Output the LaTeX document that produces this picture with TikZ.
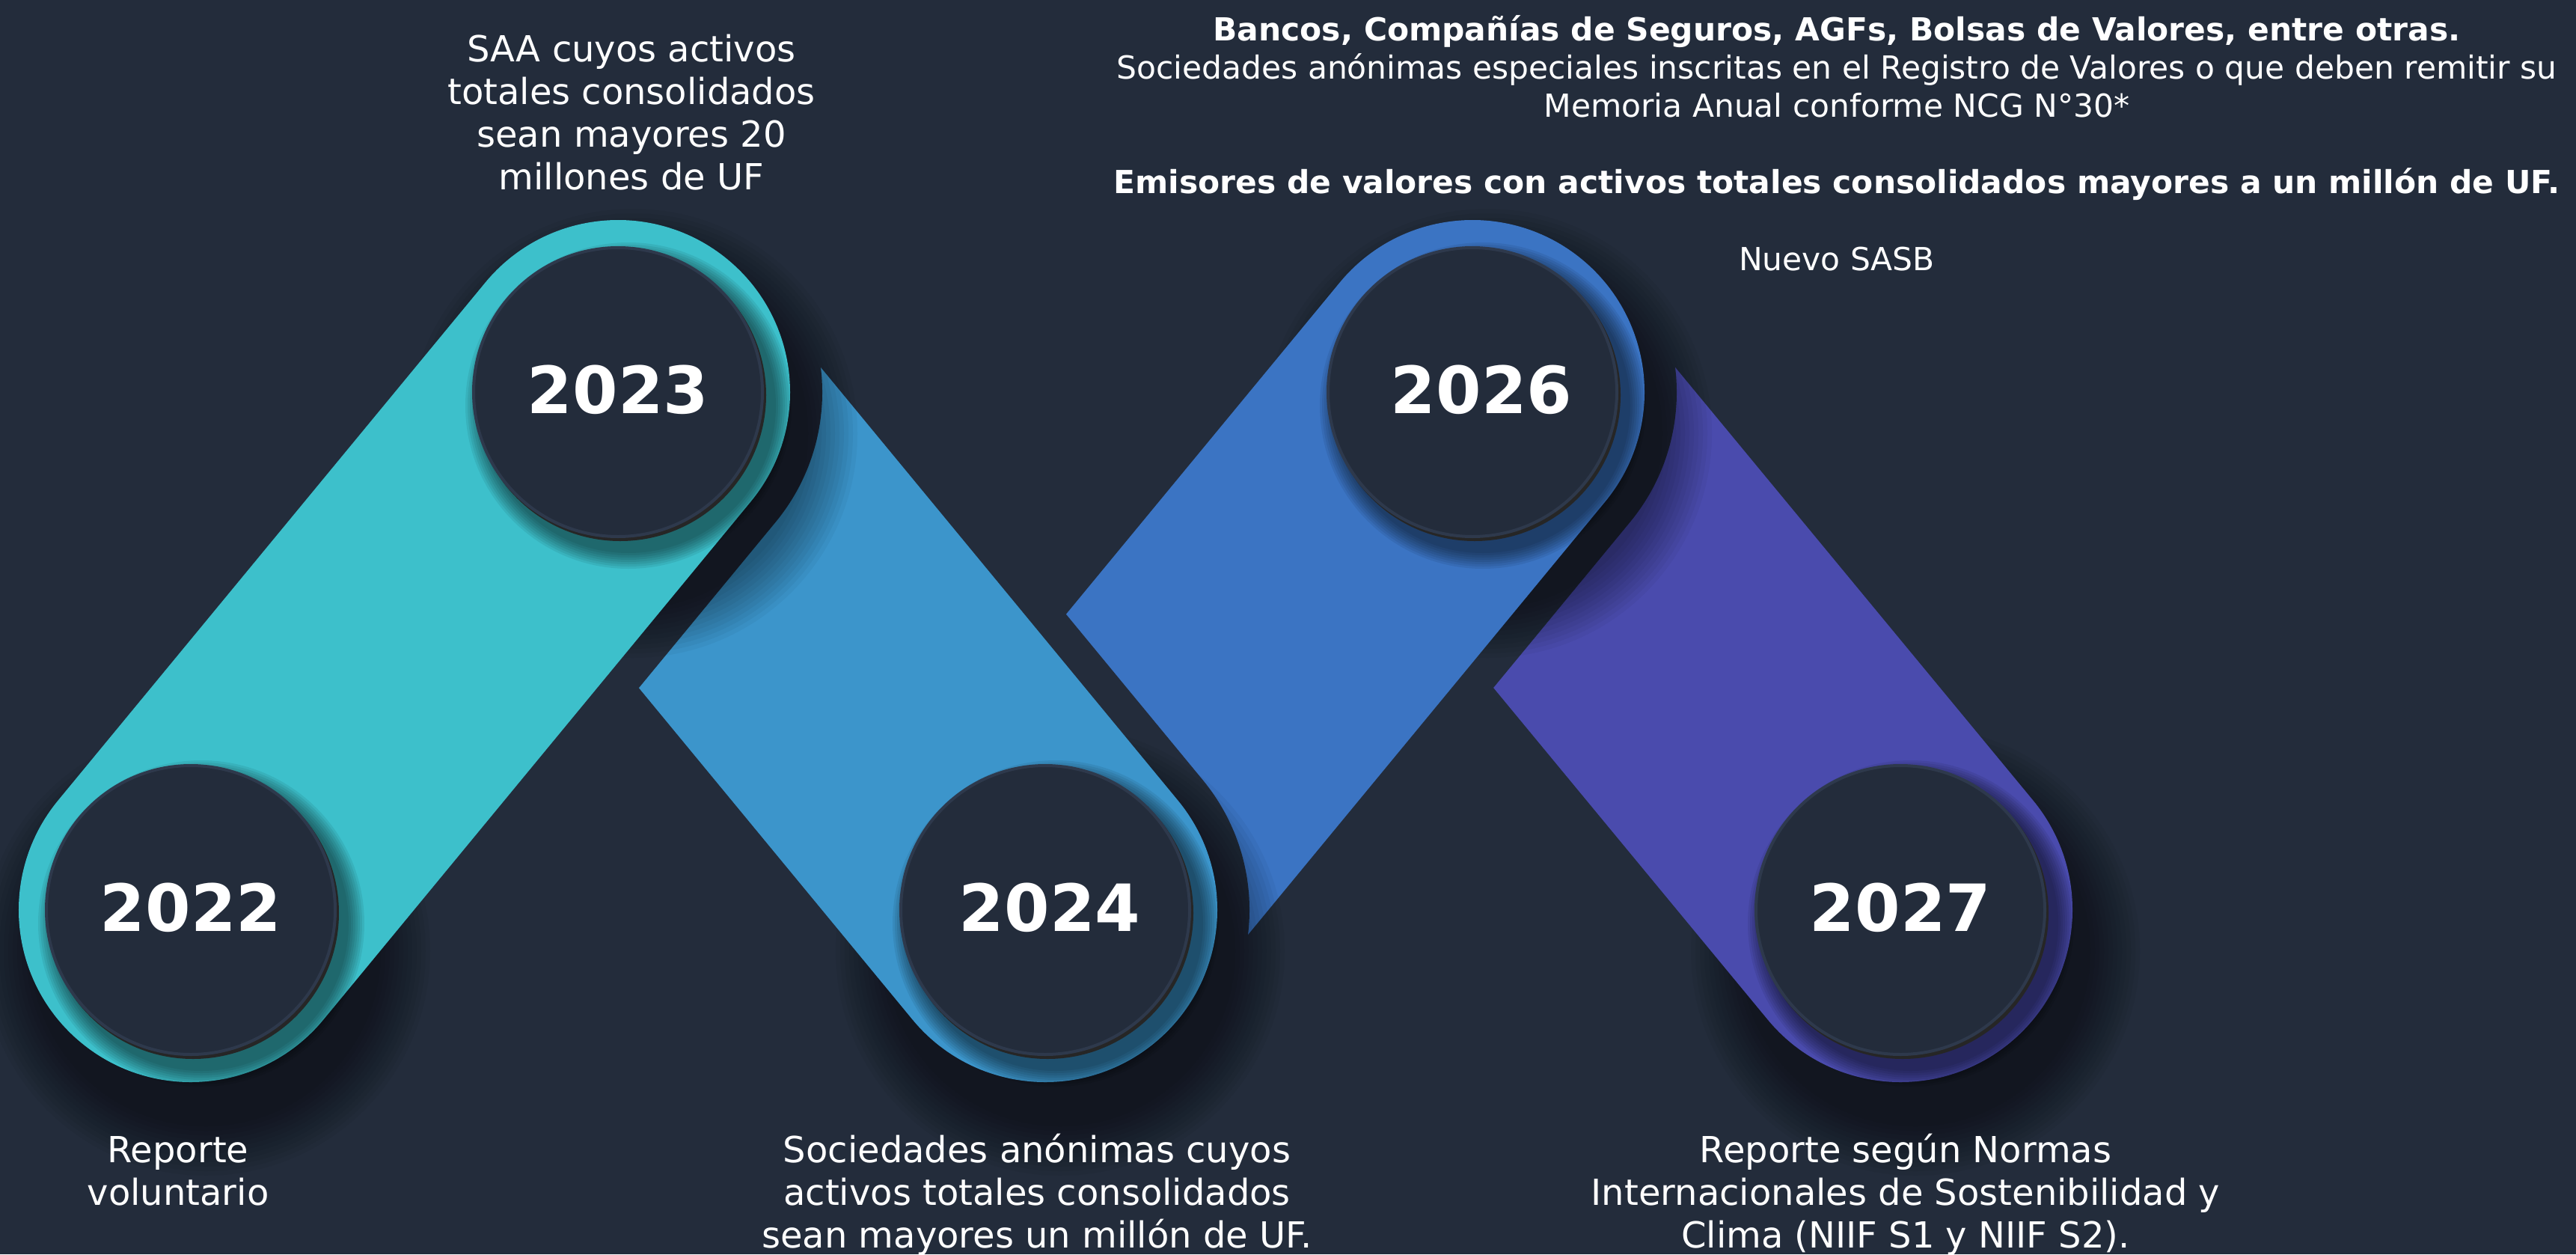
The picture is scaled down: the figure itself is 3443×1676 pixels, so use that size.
\documentclass[tikz,border=0pt]{standalone}
\usepackage{fontspec}
\setmainfont{DejaVu Sans}
\usetikzlibrary{calc}
\definecolor{bgc}{HTML}{232C3B}
\definecolor{circc}{HTML}{232C3B}
\definecolor{rimc}{HTML}{2E394C}
\definecolor{tealc}{HTML}{3DC0CB}
\definecolor{bandtwo}{HTML}{3C95CB}
\definecolor{bandthree}{HTML}{3B74C3}
\definecolor{bandfour}{HTML}{4A4BAD}
\tikzset{
  yearnode/.style={circle, minimum size=386pt, inner sep=0pt, fill=circc, draw=rimc,
    line width=4pt, text=white, text depth=8pt, font=\fontsize{87}{90}\selectfont\bfseries},
  bodytext/.style={text=white, align=center, inner sep=0pt, anchor=north,
    font=\fontsize{48}{57}\selectfont},
  toptext/.style={text=white, align=center, inner sep=0pt, anchor=north,
    font=\fontsize{42.4}{51}\selectfont},
  bandline/.style={line cap=round, line width=460pt},
  gapline/.style={line cap=round, line width=546pt, draw=bgc},
}
\newcommand{\ringshadow}[1]{%
  \foreach \k in {0,...,11}{%
    \fill[black, opacity=0.04] ($(#1)+(20,55)$) circle ({300-6*\k});
  }}
\newcommand{\discshadow}[1]{%
  \foreach \k in {0,...,7}{%
    \fill[black, opacity=0.07] ($(#1)+(14,18)$) circle ({218-3*\k});
  }
  \fill[black!85] ($(#1)+(3,4)$) circle (195);
}
\begin{document}
\begin{tikzpicture}[x=1pt,y=-1pt]
\useasboundingbox (0,0) rectangle (3443,1676);
\fill[bgc] (0,0) rectangle (3443,1676);
\coordinate (c22) at (255,1216);
\coordinate (c23) at (826,524);
\coordinate (c24) at (1397,1216);
\coordinate (c26) at (1968,524);
\coordinate (c27) at (2540,1216);
% band 4 (2026 - 2027)
\ringshadow{c27}
\draw[bandline, bandfour] (c26) -- (c27);
% band 3 (2024 - 2026)
\draw[gapline] (c24) -- (c26);
\ringshadow{c26}
\draw[bandline, bandthree] (c24) -- (c26);
% band 2 (2023 - 2024)
\draw[gapline] (c23) -- (c24);
\ringshadow{c24}
\draw[bandline, bandtwo] (c23) -- (c24);
% band 1 (2022 - 2023)
\draw[gapline] (c22) -- (c23);
\ringshadow{c23}
\ringshadow{c22}
\draw[bandline, tealc] (c22) -- (c23);
% discs
\discshadow{c22}
\discshadow{c23}
\discshadow{c24}
\discshadow{c26}
\discshadow{c27}
\node[yearnode] (y22) at (c22) {2022};
\node[yearnode] (y23) at (c23) {2023};
\node[yearnode] (y24) at (c24) {\hspace*{12pt}2024};
\node[yearnode] (y26) at (c26) {\hspace*{24pt}2026};
\node[yearnode] (y27) at (c27) {2027};
% texts
\node[bodytext] (t23) at (844,42.1) {\strut SAA cuyos activos\\ totales consolidados\\ sean mayores 20\\ millones de UF};
\node[toptext] (t26) at (2455,18.3) {\strut\textbf{Bancos, Compañías de Seguros, AGFs, Bolsas de Valores, entre otras.}\\ Sociedades anónimas especiales inscritas en el Registro de Valores o que deben remitir su\\ Memoria Anual conforme NCG N°30*\\[51pt] \textbf{Emisores de valores con activos totales consolidados mayores a un millón de UF.}};
\node[toptext, anchor=base] (t26b) at (2455,361) {Nuevo SASB};
\node[bodytext] (t22) at (238,1513.1) {\strut Reporte\\ voluntario};
\node[bodytext] (t24) at (1386,1513.1) {\strut Sociedades anónimas cuyos\\ activos totales consolidados\\ sean mayores un millón de UF.};
\node[bodytext] (t27) at (2547,1513.1) {\strut Reporte según Normas\\ Internacionales de Sostenibilidad y\\ Clima (NIIF S1 y NIIF S2).};
\end{tikzpicture}
\end{document}
